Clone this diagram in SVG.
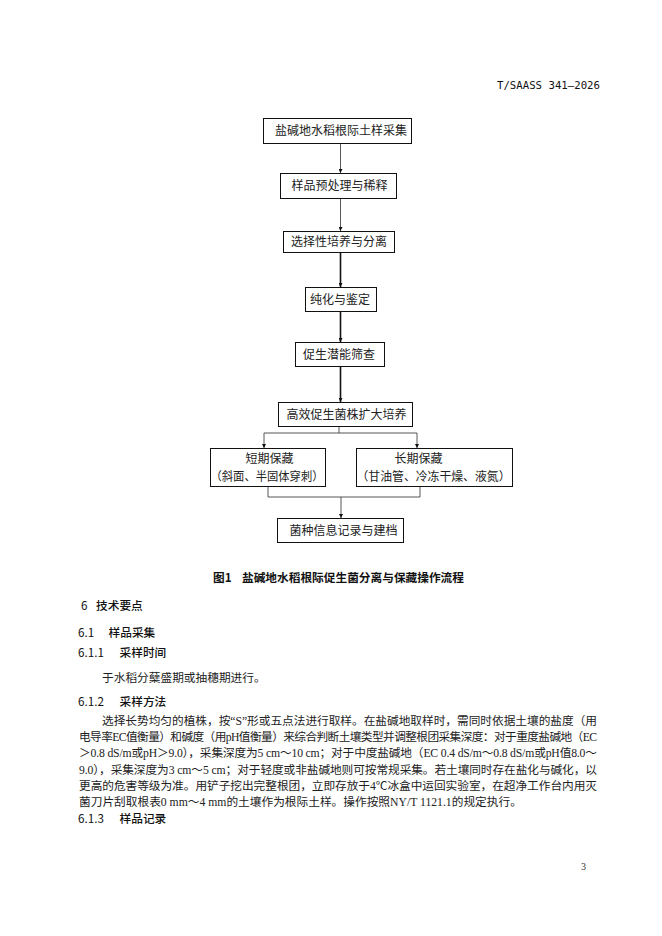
<svg xmlns="http://www.w3.org/2000/svg" width="662" height="936" viewBox="0 0 662 936">
<defs>
<style>
.box{fill:#fff;stroke:#111;stroke-width:1}
.ft{font-family:"Noto Sans CJK SC","Liberation Serif",serif;font-size:12px;fill:#222;text-anchor:middle}
.ln{fill:none;stroke:#444;stroke-width:0.9}
.lnb{fill:none;stroke:#111;stroke-width:1.6}
.hd{font-family:"Noto Sans CJK SC",sans-serif;font-size:11.7px;fill:#111}
.hb{font-weight:500}
.bd{font-family:"Liberation Serif","Noto Sans CJK SC",serif;font-size:11.7px;fill:#222}
</style>
<marker id="ah" viewBox="0 0 6 6" refX="6" refY="3" markerWidth="4" markerHeight="4" markerUnits="userSpaceOnUse" orient="auto">
<path d="M0,0 L6,3 L0,6 z" fill="#111"/>
</marker>
</defs>
<rect width="662" height="936" fill="#fff"/>
<text x="600" y="89" font-family="DejaVu Sans Mono, monospace" font-size="10.5" fill="#111" text-anchor="end" textLength="103" lengthAdjust="spacingAndGlyphs">T/SAASS 341—2026</text>

<g id="connectors">
<line class="ln" x1="340.5" y1="143" x2="340.5" y2="173" marker-end="url(#ah)"/>
<line class="ln" x1="340.5" y1="198" x2="340.5" y2="231" marker-end="url(#ah)"/>
<line class="lnb" x1="340.5" y1="252" x2="340.5" y2="287" marker-end="url(#ah)"/>
<line class="lnb" x1="340.5" y1="311" x2="340.5" y2="342" marker-end="url(#ah)"/>
<line class="lnb" x1="340.5" y1="366" x2="340.5" y2="402" marker-end="url(#ah)"/>
<polyline class="ln" points="339,426 339,433"/>
<polyline class="ln" points="264,433 417,433"/>
<line class="ln" x1="264" y1="433" x2="264" y2="448" marker-end="url(#ah)"/>
<line class="ln" x1="417" y1="433" x2="417" y2="448" marker-end="url(#ah)"/>
<polyline class="ln" points="268,486.5 268,497 420,497 420,486.5"/>
<line class="ln" x1="341" y1="497" x2="341" y2="518" marker-end="url(#ah)"/>
</g>

<g id="n1"><rect class="box" x="263.5" y="118.5" width="148" height="25"/><text class="ft" x="341" y="135">盐碱地水稻根际土样采集</text></g>
<g id="n2"><rect class="box" x="280.5" y="173.5" width="116" height="25"/><text class="ft" x="339.5" y="190">样品预处理与稀释</text></g>
<g id="n3"><rect class="box" x="283.5" y="231.5" width="111" height="21"/><text class="ft" x="339" y="246">选择性培养与分离</text></g>
<g id="n4"><rect class="box" x="305.5" y="287.5" width="71" height="24"/><text class="ft" x="340" y="303.5">纯化与鉴定</text></g>
<g id="n5"><rect class="box" x="295.5" y="342.5" width="89" height="24"/><text class="ft" x="339" y="358.5">促生潜能筛查</text></g>
<g id="n6"><rect class="box" x="278.5" y="402.5" width="134" height="24"/><text class="ft" x="346.5" y="418.5">高效促生菌株扩大培养</text></g>
<g id="n7"><rect class="box" x="210.5" y="448.5" width="115" height="38"/><text class="ft"><tspan x="269.5" y="463">短期保藏</tspan><tspan x="267" y="480.6" textLength="113" lengthAdjust="spacingAndGlyphs">（斜面、半固体穿刺）</tspan></text></g>
<g id="n8"><rect class="box" x="356.5" y="448.5" width="156" height="38"/><text class="ft"><tspan x="418.5" y="463">长期保藏</tspan><tspan x="433.5" y="480.6" textLength="154" lengthAdjust="spacingAndGlyphs">（甘油管、冷冻干燥、液氮）</tspan></text></g>
<g id="n9"><rect class="box" x="277.5" y="518.5" width="126" height="24"/><text class="ft" x="343.5" y="534.5">菌种信息记录与建档</text></g>

<text class="hd" x="213" y="581.5" font-weight="bold">图1</text>
<text class="hd" x="242" y="581.5" font-weight="bold" textLength="222">盐碱地水稻根际促生菌分离与保藏操作流程</text>

<text class="hd" x="81" y="609.5">6</text>
<text class="hd hb" x="96" y="609.5">技术要点</text>
<text class="hd" x="78" y="637">6.1</text>
<text class="hd hb" x="108.5" y="637">样品采集</text>
<text class="hd" x="78" y="656.5">6.1.1</text>
<text class="hd hb" x="119.5" y="656.5">采样时间</text>
<text class="bd" x="102" y="681.5">于水稻分蘖盛期或抽穗期进行。</text>
<text class="hd" x="78" y="706">6.1.2</text>
<text class="hd hb" x="119.5" y="706">采样方法</text>

<text class="bd" x="102" y="725" textLength="495" lengthAdjust="spacing">选择长势均匀的植株，按“S”形或五点法进行取样。在盐碱地取样时，需同时依据土壤的盐度（用</text>
<text class="bd" x="79" y="741.2" textLength="518" lengthAdjust="spacing">电导率EC值衡量）和碱度（用pH值衡量）来综合判断土壤类型并调整根团采集深度：对于重度盐碱地（EC</text>
<text class="bd" x="79" y="757.4" textLength="518" lengthAdjust="spacing">＞0.8 dS/m或pH＞9.0），采集深度为5 cm～10 cm；对于中度盐碱地（EC 0.4 dS/m～0.8 dS/m或pH值8.0～</text>
<text class="bd" x="79" y="773.6" textLength="518" lengthAdjust="spacing">9.0），采集深度为3 cm～5 cm；对于轻度或非盐碱地则可按常规采集。若土壤同时存在盐化与碱化，以</text>
<text class="bd" x="79" y="789.8" textLength="518" lengthAdjust="spacing">更高的危害等级为准。用铲子挖出完整根团，立即存放于4℃冰盒中运回实验室，在超净工作台内用灭</text>
<text class="bd" x="79" y="806">菌刀片刮取根表0 mm～4 mm的土壤作为根际土样。操作按照NY/T 1121.1的规定执行。</text>

<text class="hd" x="78" y="823">6.1.3</text>
<text class="hd hb" x="119.5" y="823">样品记录</text>

<text x="581" y="870" font-family="Liberation Serif, serif" font-size="10" fill="#333">3</text>
</svg>
